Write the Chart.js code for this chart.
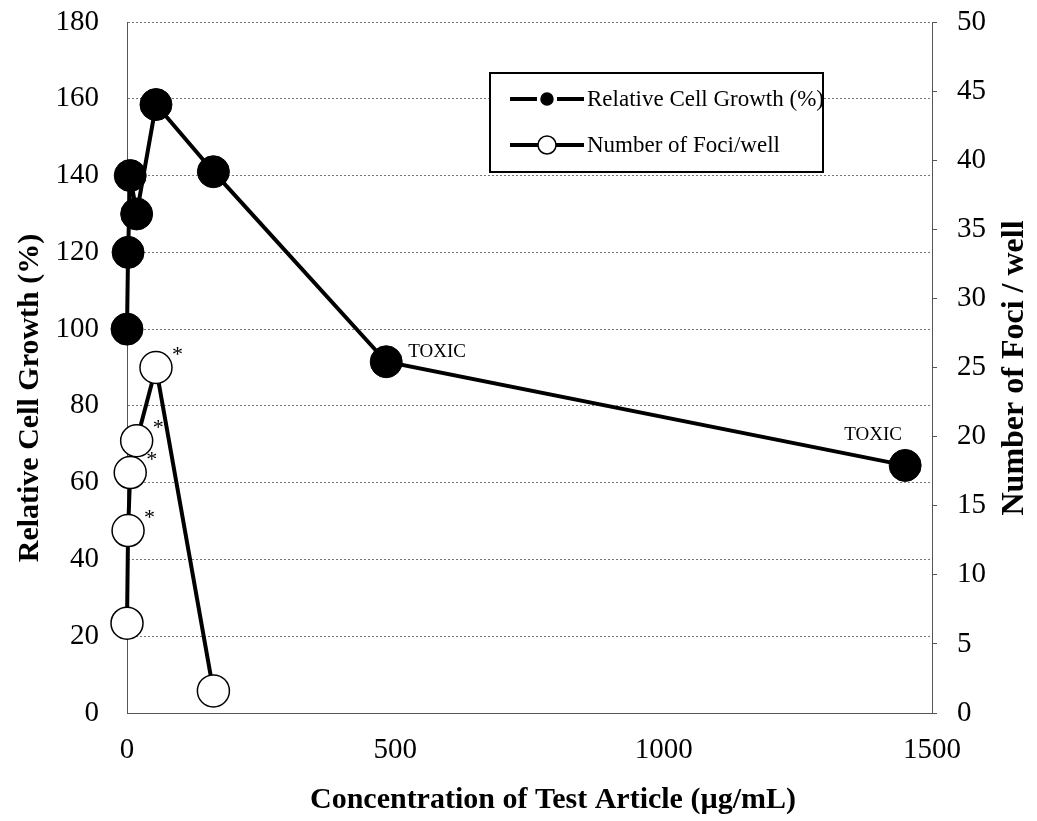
<!DOCTYPE html>
<html>
<head>
<meta charset="utf-8">
<script src="https://cdn.jsdelivr.net/npm/chart.js@4.4.1/dist/chart.umd.min.js"></script>
<style>
  html, body { margin: 0; padding: 0; background: #fff; }
  #wrap { width: 1037px; height: 821px; }
</style>
</head>
<body>
<div id="wrap"><canvas id="chart"></canvas></div>
<script>
// concentrations of test article (ug/mL)
const concentrations = [0, 2, 6, 18, 54, 161, 483, 1450];
const cellGrowth = [100, 120, 140, 130, 158.5, 141, 91.5, 64.5];

const fociConcentrations = [0, 2, 6, 18, 54, 161];
const fociPerWell = [6.5, 13.2, 17.4, 19.7, 25, 1.6];
const fociStars = ["", "*", "*", "*", "*", ""];

const toxicConcentrations = [483, 1450];
const toxicGrowth = [91.5, 64.5];

const xTicks = [0, 500, 1000, 1500];
const leftTicks = [0, 20, 40, 60, 80, 100, 120, 140, 160, 180];
const rightTicks = [0, 5, 10, 15, 20, 25, 30, 35, 40, 45, 50];

const serif = "'Liberation Serif', 'Times New Roman', serif";

const growthPoints = concentrations.map((c, i) => ({ x: c, y: cellGrowth[i] }));
const fociPoints = fociConcentrations.map((c, i) => ({ x: c, y: fociPerWell[i] }));

// texts drawn on top: TOXIC labels, stars, axis titles, legend
const overlayPlugin = {
  id: "overlay",
  afterDatasetsDraw(chart) {
    const ctx = chart.ctx;
    const x = chart.scales.x;
    const y = chart.scales.y;
    const y1 = chart.scales.y1;
    ctx.save();
    ctx.fillStyle = "#000";

    // TOXIC labels
    ctx.font = "19px " + serif;
    ctx.textBaseline = "alphabetic";
    ctx.textAlign = "left";
    ctx.fillText("TOXIC", x.getPixelForValue(toxicConcentrations[0]) + 22, y.getPixelForValue(toxicGrowth[0]) - 5);
    ctx.textAlign = "center";
    ctx.fillText("TOXIC", x.getPixelForValue(toxicConcentrations[1]) - 32, y.getPixelForValue(toxicGrowth[1]) - 25);

    // significance stars
    ctx.font = "22px " + serif;
    ctx.textAlign = "left";
    fociStars.forEach((s, i) => {
      if (!s) return;
      const px = x.getPixelForValue(fociConcentrations[i]);
      const py = y1.getPixelForValue(fociPerWell[i]);
      ctx.fillText(s, px + 16, py - 7);
    });

    // axis titles
    ctx.font = "bold 30px " + serif;
    ctx.textAlign = "center";
    ctx.textBaseline = "middle";
    ctx.fillText("Concentration of Test Article (\u00b5g/mL)", 553, 800);

    ctx.save();
    ctx.translate(30, 398);
    ctx.rotate(-Math.PI / 2);
    ctx.fillText("Relative Cell Growth (%)", 0, 0);
    ctx.restore();

    ctx.font = "bold 32px " + serif;
    ctx.save();
    ctx.translate(1015, 368);
    ctx.rotate(-Math.PI / 2);
    ctx.fillText("Number of Foci / well", 0, 0);
    ctx.restore();

    // legend box
    const lx = 490, ly = 73, lw = 333, lh = 99;
    ctx.fillStyle = "#fff";
    ctx.fillRect(lx, ly, lw, lh);
    ctx.strokeStyle = "#000";
    ctx.lineWidth = 2;
    ctx.strokeRect(lx, ly, lw, lh);

    const entries = [
      { label: chart.data.datasets[0].label, fill: "#000", gap: 10, r: 6 },
      { label: chart.data.datasets[1].label, fill: "#fff", gap: 0, r: 9 }
    ];
    entries.forEach((e, i) => {
      const cy = ly + 26 + i * 46;
      ctx.strokeStyle = "#000";
      ctx.lineWidth = 4;
      ctx.beginPath();
      ctx.moveTo(510, cy);
      ctx.lineTo(547 - e.gap, cy);
      ctx.moveTo(547 + e.gap, cy);
      ctx.lineTo(584, cy);
      ctx.stroke();
      ctx.beginPath();
      ctx.arc(547, cy, e.r, 0, Math.PI * 2);
      ctx.fillStyle = e.fill;
      ctx.fill();
      ctx.lineWidth = 1.5;
      ctx.stroke();
      ctx.fillStyle = "#000";
      ctx.font = "23px " + serif;
      ctx.textAlign = "left";
      ctx.textBaseline = "middle";
      ctx.fillText(e.label, 587, cy + 1);
    });

    ctx.restore();
  }
};

// fixed axis sizes so the plot area sits where the reference has it
function fitVertical(width) {
  return (s) => {
    s.width = width;
    s.paddingTop = 0;
    s.paddingBottom = 0;
  };
}

const ctx = document.getElementById("chart").getContext("2d");
new Chart(ctx, {
  type: "scatter",
  data: {
    datasets: [
      {
        label: "Relative Cell Growth (%)",
        data: growthPoints,
        yAxisID: "y",
        showLine: true,
        borderColor: "#000",
        borderWidth: 4,
        pointRadius: 16,
        pointBackgroundColor: "#000",
        pointBorderColor: "#000",
        pointBorderWidth: 1,
        clip: false,
        order: 1
      },
      {
        label: "Number of Foci/well",
        data: fociPoints,
        yAxisID: "y1",
        showLine: true,
        borderColor: "#000",
        borderWidth: 4,
        pointRadius: 16,
        pointBackgroundColor: "#fff",
        pointBorderColor: "#000",
        pointBorderWidth: 1.5,
        clip: false,
        order: 0
      }
    ]
  },
  options: {
    responsive: true,
    maintainAspectRatio: false,
    animation: false,
    devicePixelRatio: 1,
    layout: { autoPadding: false, padding: { top: 22, left: 0, right: 0, bottom: 0 } },
    plugins: {
      legend: { display: false },
      tooltip: { enabled: false }
    },
    scales: {
      x: {
        type: "linear",
        min: 0,
        max: 1500,
        afterBuildTicks: (s) => { s.ticks = xTicks.map((v) => ({ value: v })); },
        afterFit: (s) => { s.height = 108; s.paddingLeft = 0; s.paddingRight = 0; },
        ticks: {
          font: { family: serif, size: 29 },
          color: "#000",
          padding: 20,
          callback: (v) => String(v)
        },
        grid: { display: false, drawTicks: false },
        border: { display: true, color: "#555", width: 1 }
      },
      y: {
        position: "left",
        min: 0,
        max: 180,
        afterBuildTicks: (s) => { s.ticks = leftTicks.map((v) => ({ value: v })); },
        afterFit: fitVertical(127),
        ticks: {
          font: { family: serif, size: 29 },
          color: "#000",
          padding: 28
        },
        grid: {
          color: "#777",
          lineWidth: 1,
          drawTicks: false
        },
        border: { display: true, color: "#555", width: 1, dash: [2, 2] }
      },
      y1: {
        position: "right",
        min: 0,
        max: 50,
        afterBuildTicks: (s) => { s.ticks = rightTicks.map((v) => ({ value: v })); },
        afterFit: fitVertical(105),
        ticks: {
          font: { family: serif, size: 29 },
          color: "#000",
          padding: 20
        },
        grid: {
          drawOnChartArea: false,
          drawTicks: true,
          tickLength: 5,
          color: "#555"
        },
        border: { display: true, color: "#555", width: 1 }
      }
    }
  },
  plugins: [overlayPlugin]
});
</script>
</body>
</html>
